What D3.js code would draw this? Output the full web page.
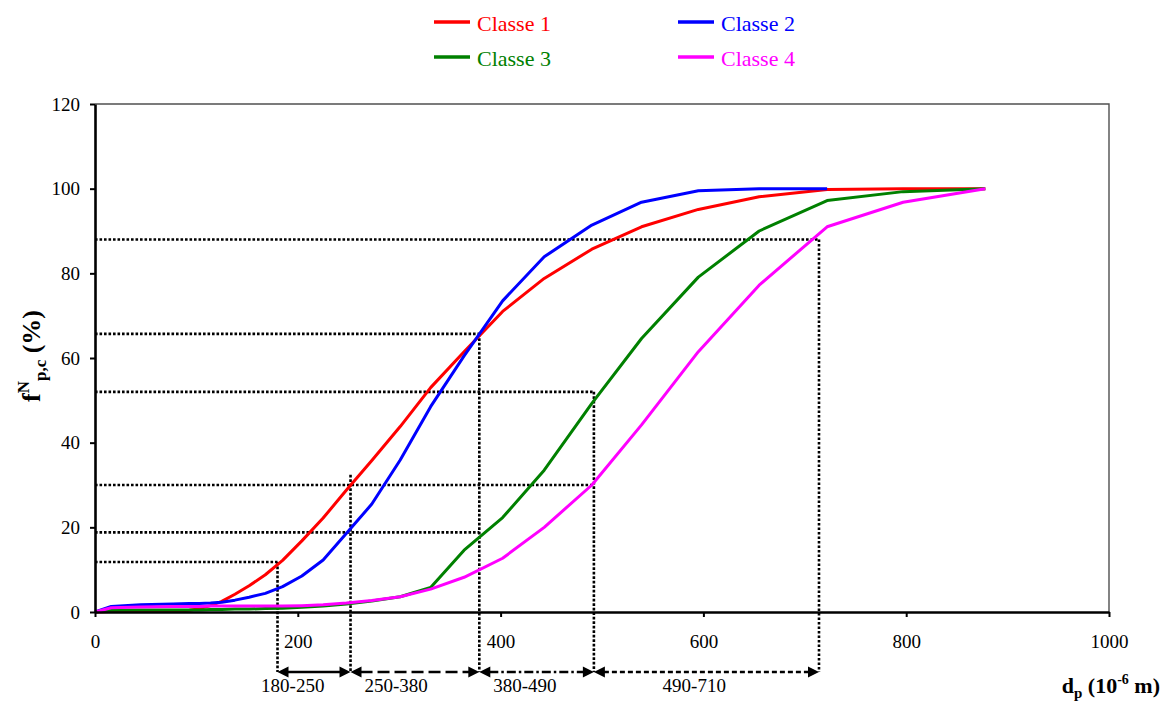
<!DOCTYPE html>
<html><head><meta charset="utf-8">
<script src="https://cdn.jsdelivr.net/npm/d3@7"></script>
<style>
body{margin:0;background:#fff;}
svg{display:block;}
text{font-family:"Liberation Serif","Times New Roman",serif;}
</style>
</head><body><svg id="c" width="1165" height="702"></svg>
<script>
// ---------- data ----------
const diameters = [0, 16, 45, 77, 93, 103, 114, 125, 138, 152, 168, 185, 204, 225, 248, 273, 301, 331, 364, 402, 443, 490, 539, 595, 655, 722, 797, 878];
const classe1 = [0, 0.1, 0.1, 0.2, 0.4, 0.8, 1.5, 2.5, 4.2, 6.2, 8.8, 12.2, 16.8, 22.2, 28.8, 35.8, 43.8, 53.0, 61.5, 71.0, 78.8, 85.7, 91.0, 95.1, 98.1, 99.8, 100, 100];
const classe2 = [0, 1.3, 1.7, 1.9, 2.0, 2.0, 2.1, 2.3, 2.8, 3.5, 4.4, 6.0, 8.5, 12.3, 18.6, 25.5, 35.9, 48.5, 60.5, 73.5, 83.9, 91.4, 96.8, 99.5, 100, 100];
const classe3 = [0, 0.4, 0.5, 0.5, 0.5, 0.5, 0.6, 0.6, 0.7, 0.7, 0.8, 0.9, 1.1, 1.4, 1.9, 2.6, 3.6, 5.8, 14.6, 22.3, 33.5, 49.3, 64.6, 79.1, 90.0, 97.2, 99.3, 100];
const classe4 = [0, 1.0, 1.2, 1.3, 1.3, 1.3, 1.4, 1.4, 1.4, 1.4, 1.4, 1.4, 1.5, 1.7, 2.1, 2.7, 3.6, 5.4, 8.2, 12.7, 20.0, 30.0, 44.2, 61.5, 77.2, 91.0, 96.8, 100];
const seriesNames = ["Classe 1", "Classe 2", "Classe 3", "Classe 4"];
const seriesColors = ["#ff0000", "#0000ff", "#008000", "#ff00ff"];
const xTicks = [0, 200, 400, 600, 800, 1000];
const yTicks = [0, 20, 40, 60, 80, 100, 120];
// reference (dotted) lines
const refLevels = [11.8, 18.8, 30, 52, 65.7, 88];
const refLevelEnds = [180, 379, 492, 492, 379, 714];
const refDiams = [180, 252, 379, 492, 714];
const refDiamTops = [11.8, 32.4, 65.7, 52, 88];
// size ranges under the axis
const rangeLabels = ["180-250", "250-380", "380-490", "490-710"];
const rangeLabelAt = [195, 297, 424, 591];

// ---------- layout ----------
const FONT = '"Liberation Serif","Times New Roman",serif';
const L = 95, R = 1109, T = 104, B = 612;
const arrowY = B + 60;
const svg = d3.select("#c");
const x = d3.scaleLinear().domain([0, 1000]).range([L, R]);
const y = d3.scaleLinear().domain([0, 120]).range([B, T]);

// top/right frame
svg.append("path").attr("d", `M${L},${T}H${R}V${B}`)
  .attr("fill", "none").attr("stroke", "#505050").attr("stroke-width", 1.4);

// dotted reference lines
function dotted(sel) {
  return sel.attr("stroke", "#000").attr("stroke-width", 2.6).attr("stroke-dasharray", "2.6,1.9");
}
refLevels.forEach((lv, i) => {
  dotted(svg.append("line").attr("x1", x(0)).attr("x2", x(refLevelEnds[i]))
    .attr("y1", y(lv)).attr("y2", y(lv)));
});
refDiams.forEach((d, i) => {
  dotted(svg.append("line").attr("x1", x(d)).attr("x2", x(d))
    .attr("y1", y(refDiamTops[i])).attr("y2", arrowY));
});

// curves
const allSeries = [classe1, classe2, classe3, classe4];
const line = d3.line().x(d => x(d[0])).y(d => y(d[1]));
allSeries.forEach((vals, i) => {
  const pts = vals.map((v, j) => [diameters[j], v]);
  svg.append("path").attr("d", line(pts)).attr("fill", "none")
    .attr("stroke", seriesColors[i]).attr("stroke-width", 3)
    .attr("stroke-linejoin", "round").attr("stroke-linecap", "butt");
});

// axes
const yAxis = svg.append("g").attr("transform", `translate(${L},0)`)
  .call(d3.axisLeft(y).tickValues(yTicks).tickFormat(d3.format("d")).tickSize(5).tickSizeOuter(0).tickPadding(10));
const xAxis = svg.append("g").attr("transform", `translate(0,${B})`)
  .call(d3.axisBottom(x).tickValues(xTicks).tickFormat(d3.format("d")).tickSize(5).tickSizeOuter(0).tickPadding(18));
[yAxis, xAxis].forEach(g => {
  g.attr("font-family", FONT).attr("font-size", 19);
  g.select(".domain").attr("stroke", "#000").attr("stroke-width", 2.6);
  g.selectAll(".tick line").attr("stroke", "#000").attr("stroke-width", 2);
  g.selectAll(".tick text").attr("fill", "#000").attr("font-family", FONT).attr("font-size", 19);
});

// range arrows
const dashes = [null, "12,5", "9,3,2.5,3", "5,3"];
rangeLabels.forEach((lab, i) => {
  const a = x(refDiams[i]), b = x(refDiams[i + 1]);
  const ah = 11, hw = 5.5;
  const ln = svg.append("line").attr("x1", a + ah - 1).attr("x2", b - ah + 1)
    .attr("y1", arrowY).attr("y2", arrowY).attr("stroke", "#000").attr("stroke-width", 2.5);
  if (dashes[i]) ln.attr("stroke-dasharray", dashes[i]);
  svg.append("path").attr("d", `M${a},${arrowY}L${a + ah},${arrowY - hw}L${a + ah},${arrowY + hw}Z`).attr("fill", "#000");
  svg.append("path").attr("d", `M${b},${arrowY}L${b - ah},${arrowY - hw}L${b - ah},${arrowY + hw}Z`).attr("fill", "#000");
  svg.append("text").attr("x", x(rangeLabelAt[i])).attr("y", arrowY + 20)
    .attr("text-anchor", "middle").attr("font-family", FONT).attr("font-size", 19).text(lab);
});

// legend
const legX = [434, 678], legY = [22, 57];
seriesNames.forEach((n, i) => {
  const lx = legX[i % 2], ly = legY[Math.floor(i / 2)];
  svg.append("line").attr("x1", lx).attr("x2", lx + 36).attr("y1", ly).attr("y2", ly)
    .attr("stroke", seriesColors[i]).attr("stroke-width", 3.5);
  svg.append("text").attr("x", lx + 43).attr("y", ly + 9).attr("fill", seriesColors[i])
    .attr("font-family", FONT).attr("font-size", 22).text(n);
});

// y title
const yt = svg.append("text").attr("transform", "translate(40,356) rotate(-90)")
  .attr("text-anchor", "middle").attr("font-family", FONT)
  .attr("font-weight", "bold").attr("font-size", 26);
yt.append("tspan").text("f");
yt.append("tspan").attr("dy", -11).attr("font-size", 17).text("N");
yt.append("tspan").attr("dy", 17).attr("font-size", 17).text("p,c");
yt.append("tspan").attr("dy", -6).text(" (%)");

// x title
const xt = svg.append("text").attr("x", 1160).attr("y", 693)
  .attr("text-anchor", "end").attr("font-family", FONT)
  .attr("font-weight", "bold").attr("font-size", 22);
xt.append("tspan").text("d");
xt.append("tspan").attr("dy", 5).attr("font-size", 15).text("p");
xt.append("tspan").attr("dy", -5).text(" (10");
xt.append("tspan").attr("dy", -9).attr("font-size", 14).text("-6");
xt.append("tspan").attr("dy", 9).text(" m)");
</script>
</body></html>
